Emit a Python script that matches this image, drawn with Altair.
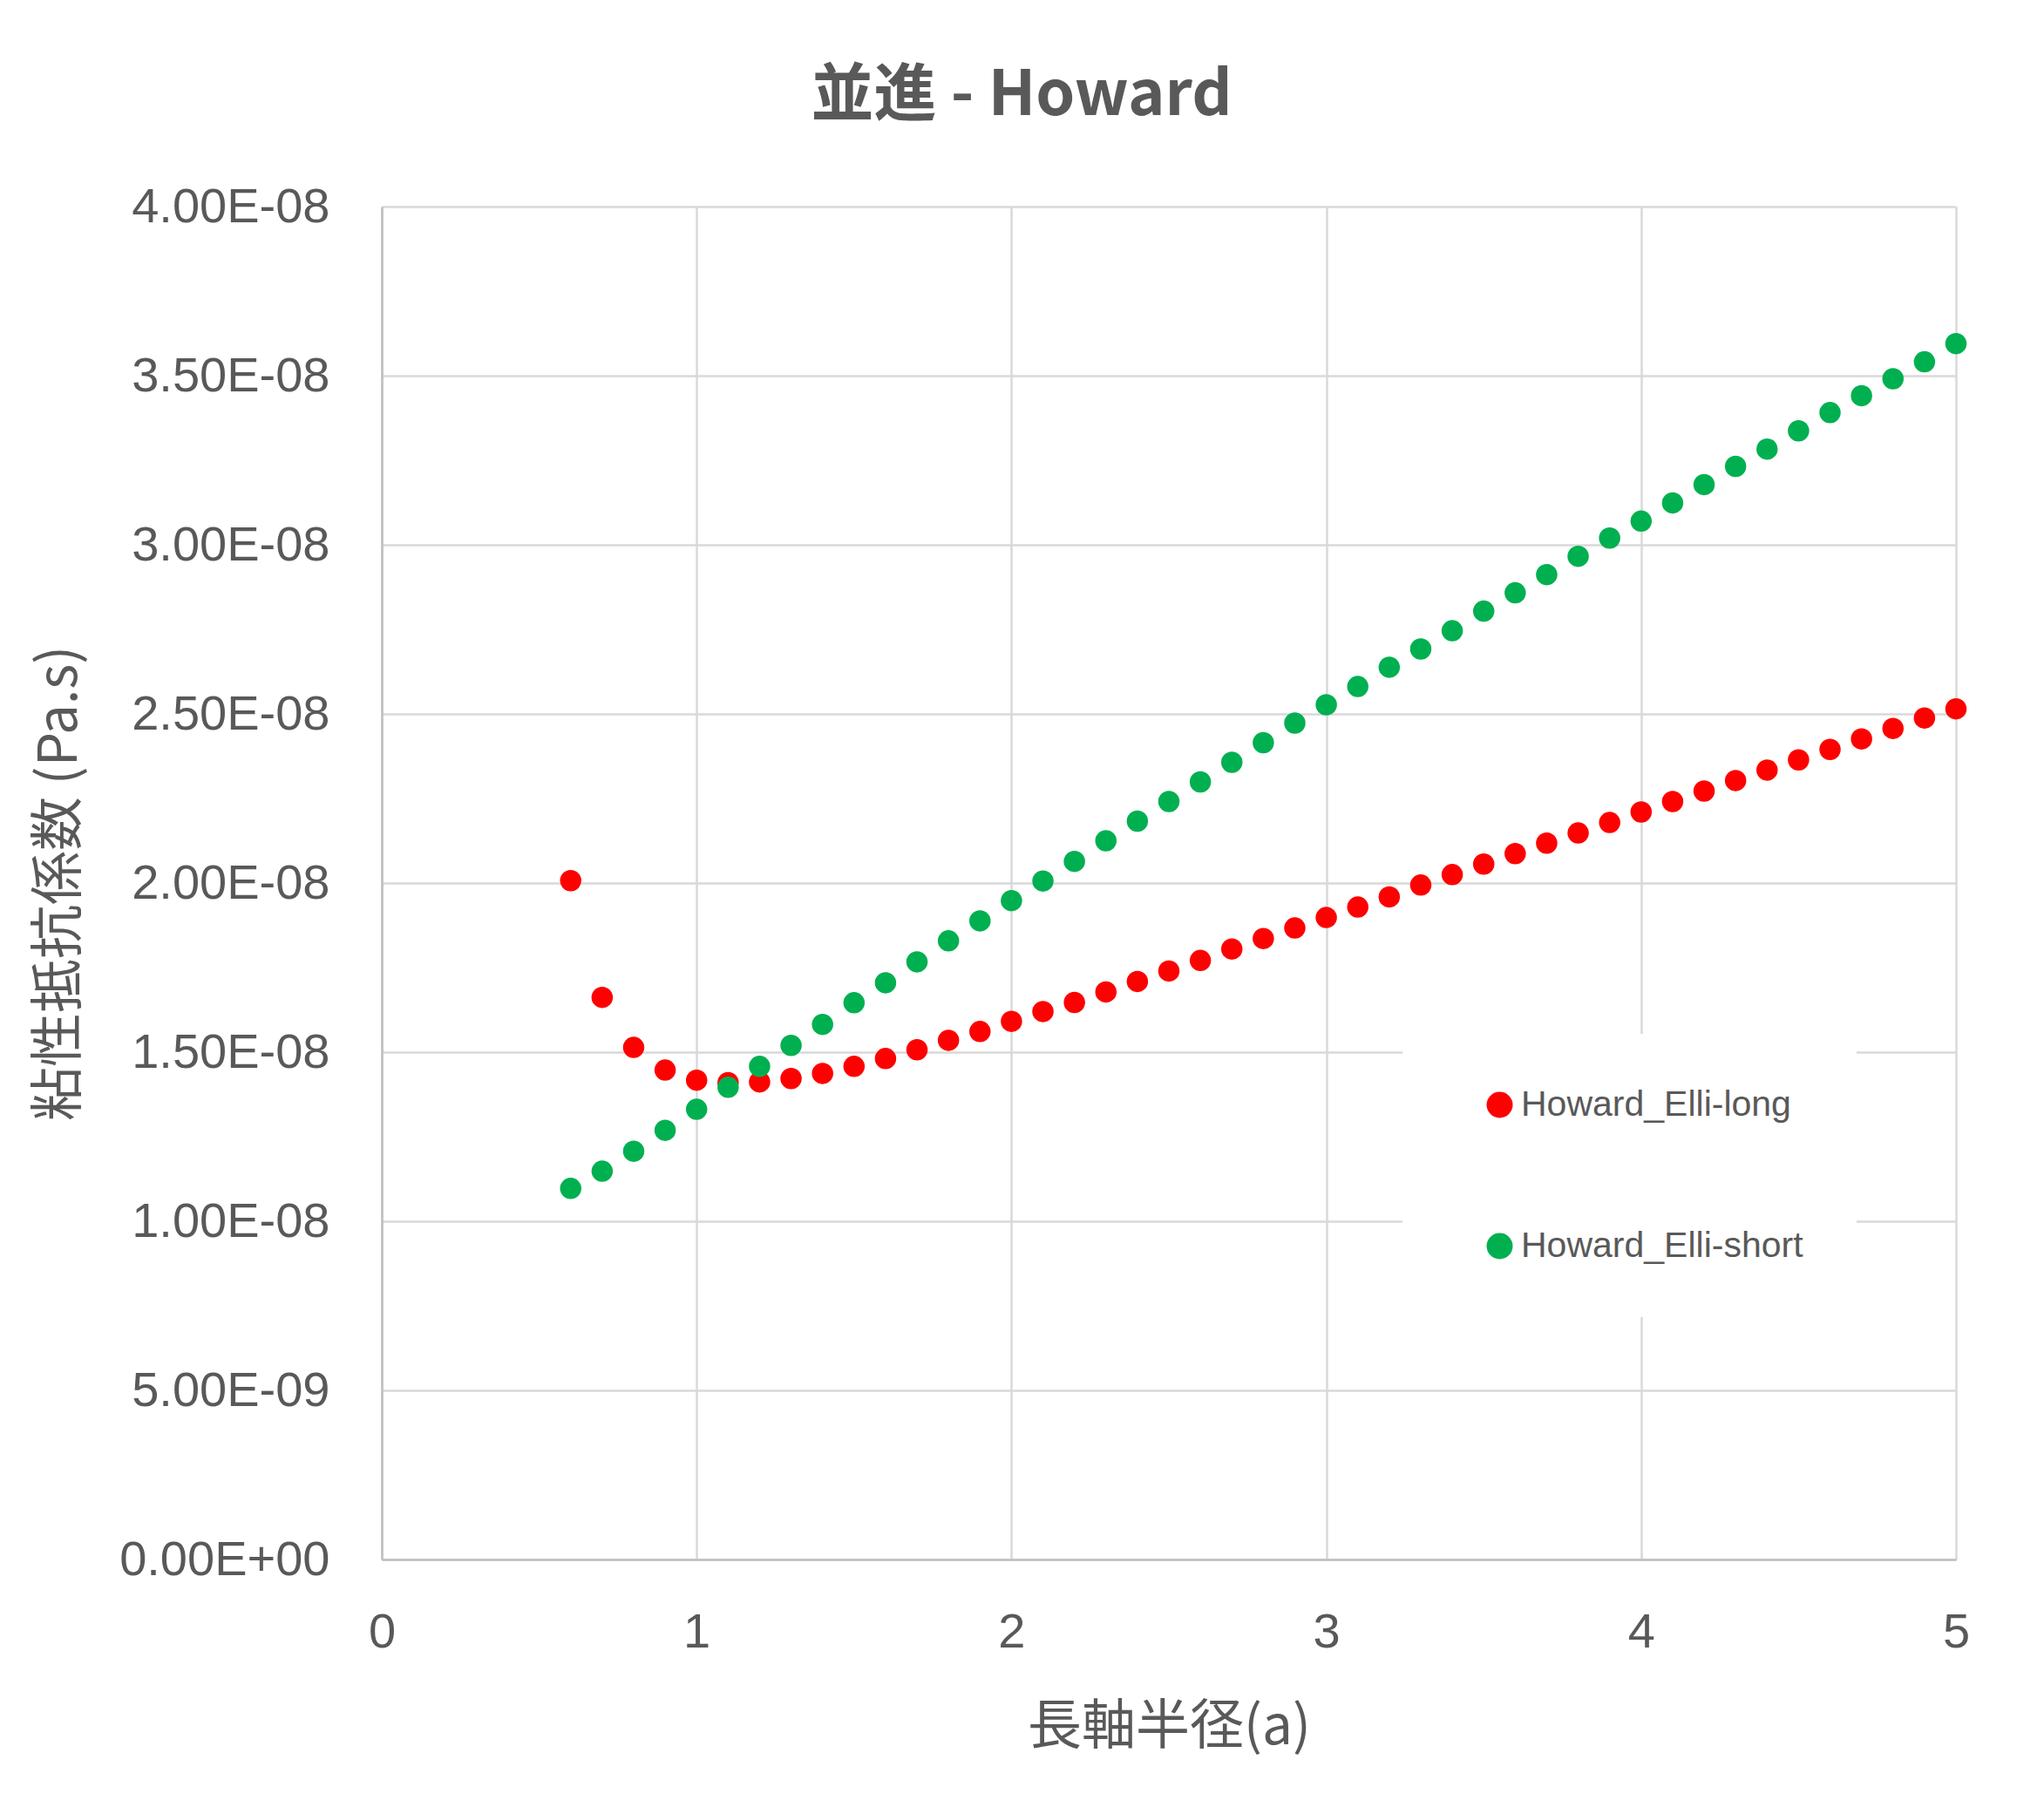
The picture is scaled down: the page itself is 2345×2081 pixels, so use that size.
import altair as alt
import pandas as pd

# ---- data ----
radius_a = [0.6, 0.7, 0.8, 0.9, 1.0, 1.1, 1.2, 1.3, 1.4, 1.5, 1.6, 1.7, 1.8, 1.9, 2.0,
            2.1, 2.2, 2.3, 2.4, 2.5, 2.6, 2.7, 2.8, 2.9, 3.0, 3.1, 3.2, 3.3, 3.4, 3.5,
            3.6, 3.7, 3.8, 3.9, 4.0, 4.1, 4.2, 4.3, 4.4, 4.5, 4.6, 4.7, 4.8, 4.9, 5.0]

long_visc = [2.007e-8, 1.662e-8, 1.514e-8, 1.447e-8, 1.417e-8, 1.410e-8, 1.412e-8, 1.422e-8,
             1.437e-8, 1.458e-8, 1.481e-8, 1.507e-8, 1.535e-8, 1.561e-8, 1.591e-8, 1.620e-8,
             1.647e-8, 1.678e-8, 1.709e-8, 1.740e-8, 1.771e-8, 1.805e-8, 1.836e-8, 1.867e-8,
             1.898e-8, 1.929e-8, 1.959e-8, 1.994e-8, 2.025e-8, 2.056e-8, 2.087e-8, 2.118e-8,
             2.148e-8, 2.179e-8, 2.210e-8, 2.241e-8, 2.272e-8, 2.303e-8, 2.334e-8, 2.364e-8,
             2.395e-8, 2.426e-8, 2.457e-8, 2.488e-8, 2.515e-8]

short_visc = [1.097e-8, 1.148e-8, 1.207e-8, 1.269e-8, 1.331e-8, 1.396e-8, 1.458e-8, 1.520e-8,
              1.582e-8, 1.646e-8, 1.705e-8, 1.767e-8, 1.829e-8, 1.888e-8, 1.948e-8, 2.006e-8,
              2.064e-8, 2.125e-8, 2.183e-8, 2.241e-8, 2.299e-8, 2.357e-8, 2.415e-8, 2.473e-8,
              2.527e-8, 2.581e-8, 2.638e-8, 2.692e-8, 2.746e-8, 2.804e-8, 2.858e-8, 2.912e-8,
              2.966e-8, 3.020e-8, 3.070e-8, 3.124e-8, 3.178e-8, 3.232e-8, 3.283e-8, 3.337e-8,
              3.391e-8, 3.441e-8, 3.491e-8, 3.541e-8, 3.595e-8]

series_names = ["Howard_Elli-long", "Howard_Elli-short"]
series_colors = ["#FF0000", "#00B050"]

x_ticks = [0, 1, 2, 3, 4, 5]
y_ticks = [0, 5e-9, 1e-8, 1.5e-8, 2e-8, 2.5e-8, 3e-8, 3.5e-8, 4e-8]
y_tick_labels = ["0.00E+00", "5.00E-09", "1.00E-08", "1.50E-08", "2.00E-08",
                 "2.50E-08", "3.00E-08", "3.50E-08", "4.00E-08"]

title_text = "並進 - Howard"
x_title = "長軸半径(a)"
y_title = "粘性抵抗係数 (Pa.s)"

# ---- build table ----
rows = []
for k, (name, vals) in enumerate(zip(series_names, [long_visc, short_visc])):
    for a, v in zip(radius_a, vals):
        rows.append({"a": a, "eta": v, "series": name, "ord": k})
df = pd.DataFrame(rows)

label_expr = "[" + ",".join("'%s'" % s for s in y_tick_labels) + "][round(datum.value / 5e-9)]"

TXT = "#595959"
LATIN = "Liberation Sans"
CJK = "Noto Sans CJK JP"
DOT = 600
PLOT_W = 1806
PLOT_H = 1552

chart = alt.Chart(df).mark_circle(size=DOT, opacity=1).encode(
    x=alt.X("a:Q",
            scale=alt.Scale(domain=[0, 5], nice=False),
            axis=alt.Axis(values=x_ticks, title=x_title, labelFlush=False,
                          labelPadding=56, titlePadding=51, format="d")),
    y=alt.Y("eta:Q",
            scale=alt.Scale(domain=[0, 4e-8], nice=False),
            axis=alt.Axis(values=y_ticks, labelExpr=label_expr, title=y_title,
                          labelPadding=60, titleX=-370, titleY=PLOT_H / 2,
                          titleBaseline="middle", titleAlign="center", titleAngle=270)),
    color=alt.Color("series:N",
                    scale=alt.Scale(domain=series_names, range=series_colors),
                    legend=alt.Legend(title=None, orient="none", legendX=1171, legendY=949,
                                      fillColor="white", padding=61, rowPadding=120,
                                      symbolOffset=30, labelOffset=4, labelLimit=800,
                                      labelFont=LATIN, labelFontSize=41, labelColor=TXT,
                                      symbolSize=900, symbolType="circle",
                                      symbolStrokeWidth=0, symbolOpacity=1)),
    order=alt.Order("ord:Q"),
).properties(
    width=PLOT_W,
    height=PLOT_H,
    background="white",
    autosize=alt.AutoSizeParams(type="none"),
    padding={"left": 430, "top": 229, "right": 93, "bottom": 284},
    title=alt.TitleParams(title_text, font=CJK, fontSize=72, fontWeight="bold",
                          color=TXT, anchor="middle", dx=-169, offset=62),
).configure_view(
    strokeOpacity=0
).configure_axis(
    grid=True,
    gridColor="#D9D9D9",
    gridWidth=2.5,
    domainColor="#BFBFBF",
    domainWidth=2.5,
    ticks=False,
    tickSize=0,
    labelFont=LATIN,
    labelFontSize=56,
    labelColor=TXT,
    labelLimit=600,
    titleFont=CJK,
    titleFontSize=62,
    titleFontWeight="normal",
    titleColor=TXT,
    titleLimit=1200,
)

chart.save("out.html", embed_options={"renderer": "svg", "actions": False})
